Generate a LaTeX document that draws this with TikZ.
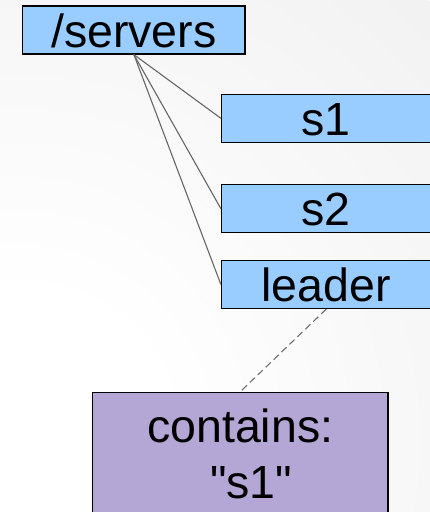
\documentclass[tikz,border=0pt]{standalone}
\usepackage{fontspec}
\newfontfamily\lsans{Liberation Sans}
\definecolor{boxblue}{HTML}{99CCFF}
\definecolor{notepurple}{HTML}{B4A7D6}
\definecolor{linegray}{HTML}{666666}
\definecolor{dashgray}{HTML}{707070}
\definecolor{bggray}{HTML}{E0E0E0}
\pgfdeclareradialshading{bgshade}{\pgfpoint{0bp}{0bp}}{color(0bp)=(white); color(6bp)=(white); color(50bp)=(bggray)}
\begin{document}
\begin{tikzpicture}[x=1pt,y=-1pt,
  zbox/.style={draw=black, line width=1.2pt, fill=boxblue, inner sep=0pt,
    minimum height=48pt, text height=41pt, text depth=7pt,
    font=\lsans\fontsize{46.5}{56.6}\selectfont},
  notebox/.style={draw=black, line width=1.2pt, fill=notepurple, inner sep=0pt,
    align=center, text height=106.6pt, text depth=32.7pt, anchor=north,
    minimum width=295.3pt, font=\lsans\fontsize{46.5}{56.6}\selectfont},
  childlink/.style={draw=linegray, line width=1.1pt},
  notelink/.style={draw=dashgray, line width=1.1pt, dash pattern=on 7pt off 4pt}]
\useasboundingbox (0,0) rectangle (430,512);
\begin{scope}
  \clip (0,0) rectangle (430,512);
  \shade[shading=bgshade] (20,440) circle (600);
\end{scope}
\node[zbox, minimum width=222.3pt] (servers) at (133.9,30) {/servers};
\node[zbox, minimum width=209.5pt] (s1) at (326.25,118.3) {s1};
\node[zbox, minimum width=209.5pt] (s2) at (326.25,208.7) {s2};
\node[zbox, minimum width=209.5pt] (leader) at (326.25,284.5) {leader};
\node[notebox] (note) at (240.3,391.7) {contains:\\\hspace*{22pt}"s1"};
\draw[childlink] (servers.south) -- (s1.west);
\draw[childlink] (servers.south) -- (s2.west);
\draw[childlink] (servers.south) -- (leader.west);
\draw[notelink] (leader.south) -- (note.north);
\end{tikzpicture}
\end{document}
